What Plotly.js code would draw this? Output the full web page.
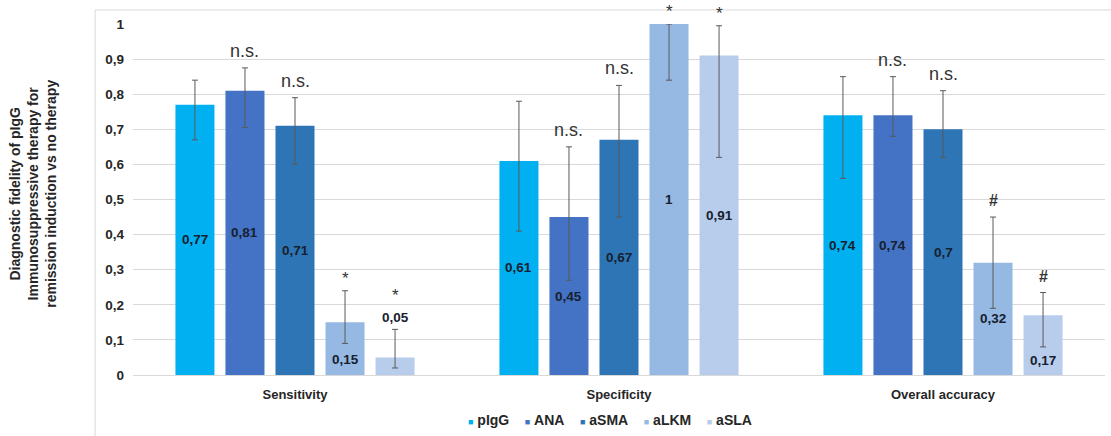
<!DOCTYPE html>
<html>
<head>
<meta charset="utf-8">
<script src="https://cdn.plot.ly/plotly-3.0.1.min.js"></script>
<style>html,body{margin:0;padding:0;background:#fff;}#chart{width:1111px;height:436px;}</style>
</head>
<body>
<div id="chart"></div>
<script>
// ---- data ----
const categories = ['Sensitivity', 'Specificity', 'Overall accuracy'];
const seriesNames = ['pIgG', 'ANA', 'aSMA', 'aLKM', 'aSLA'];

const pIgG = [0.77, 0.61, 0.74];
const ANA  = [0.81, 0.45, 0.74];
const aSMA = [0.71, 0.67, 0.70];
const aLKM = [0.15, 1.00, 0.32];
const aSLA = [0.05, 0.91, 0.17];

// confidence interval bounds (upper / lower)
const pIgG_hi = [0.84, 0.78, 0.85];
const pIgG_lo = [0.67, 0.41, 0.56];
const ANA_hi  = [0.875, 0.65, 0.85];
const ANA_lo  = [0.705, 0.27, 0.68];
const aSMA_hi = [0.79, 0.825, 0.81];
const aSMA_lo = [0.60, 0.45, 0.62];
const aLKM_hi = [0.24, 1.00, 0.45];
const aLKM_lo = [0.09, 0.84, 0.19];
const aSLA_hi = [0.13, 0.995, 0.235];
const aSLA_lo = [0.02, 0.62, 0.08];

// significance marks vs pIgG
const pIgG_sig = ['', '', ''];
const ANA_sig  = ['n.s.', 'n.s.', 'n.s.'];
const aSMA_sig = ['n.s.', 'n.s.', 'n.s.'];
const aLKM_sig = ['*', '*', '#'];
const aSLA_sig = ['*', '*', '#'];

const yTickVals = [0, 0.1, 0.2, 0.3, 0.4, 0.5, 0.6, 0.7, 0.8, 0.9, 1];
const yTitleLines = ['Diagnostic fidelity of pIgG', 'Immunosuppressive therapy for', 'remission induction vs no therapy'];

// ---- styles ----
const colors = ['#00B0F0', '#4472C4', '#2E75B6', '#95B9E2', '#B8CDEC'];
const FONT = 'Liberation Sans, Arial, sans-serif';
const TXT = '#262626';

const values = [pIgG, ANA, aSMA, aLKM, aSLA];
const his = [pIgG_hi, ANA_hi, aSMA_hi, aLKM_hi, aSLA_hi];
const los = [pIgG_lo, ANA_lo, aSMA_lo, aLKM_lo, aSLA_lo];
const sigs = [pIgG_sig, ANA_sig, aSMA_sig, aLKM_sig, aSLA_sig];

const bargap = 0.228;
const nS = seriesNames.length;
const slot = (1 - bargap) / nS;

const traces = seriesNames.map((name, i) => ({
  type: 'bar',
  name: name,
  x: categories,
  y: values[i],
  marker: {color: colors[i]},
  error_y: {
    type: 'data', symmetric: false,
    array: values[i].map((v, k) => +(his[i][k] - v).toFixed(4)),
    arrayminus: values[i].map((v, k) => +(v - los[i][k]).toFixed(4)),
    color: '#595959', thickness: 1, width: 3
  },
  hoverinfo: 'skip'
}));

const annotations = [];
const fmt = v => String(v).replace('.', ',');
const labelFont = {family: FONT, size: 13.5, color: '#17202f', weight: 'bold'};
seriesNames.forEach((name, i) => {
  values[i].forEach((v, k) => {
    const xc = k + (i - (nS - 1) / 2) * slot;
    let outside = false;
    let ly;
    if (v < 0.1) {
      outside = true;
    } else if (v / 2 + 0.02 > los[i][k]) {
      ly = los[i][k] / 2;
    } else {
      ly = v / 2;
    }
    if (outside) {
      annotations.push({x: xc, y: his[i][k], xref: 'x', yref: 'y', yanchor: 'bottom', yshift: 2,
        text: fmt(v), showarrow: false, font: labelFont});
    } else {
      annotations.push({x: xc, y: ly, xref: 'x', yref: 'y', yanchor: 'middle',
        text: fmt(v), showarrow: false, font: labelFont});
    }
    const s = sigs[i][k];
    if (s) {
      const big = s === 'n.s.';
      annotations.push({x: xc, y: his[i][k], xref: 'x', yref: 'y', yanchor: 'bottom',
        yshift: (outside ? 22 : 1) + (big ? 4 : (s === '#' ? 5 : 0)),
        text: s, showarrow: false,
        font: {family: FONT, size: big ? 18 : (s === '*' ? 17 : 16), color: '#333333',
               weight: s === '#' ? 'bold' : 'normal'}});
    }
  });
});

// y-axis title as rotated annotation
annotations.push({
  xref: 'paper', yref: 'paper', x: -0.103, y: 0.516, xanchor: 'center', yanchor: 'middle',
  textangle: -90, showarrow: false, text: yTitleLines.join('<br>'),
  font: {family: FONT, size: 14, color: TXT, weight: 'bold'}
});

// compact legend, built from series names and colours
const NB = '\u00a0';
annotations.push({
  xref: 'paper', yref: 'paper', x: 0.491, y: -0.128, xanchor: 'center', yanchor: 'middle',
  showarrow: false,
  text: seriesNames.map((n, i) =>
    `<span style="color:${colors[i]};font-size:9px">\u25A0</span>${NB}${n}`).join(NB.repeat(4)),
  font: {family: FONT, size: 14, color: TXT, weight: 'bold'}
});

const layout = {
  width: 1111, height: 436,
  margin: {l: 133, r: 6, t: 24, b: 61},
  paper_bgcolor: '#ffffff', plot_bgcolor: '#ffffff',
  separators: ', ',
  barmode: 'group', bargap: bargap, bargroupgap: 0.22,
  showlegend: false,
  xaxis: {type: 'category', showgrid: false, showline: false, ticks: '', zeroline: false,
    ticklabelstandoff: 10,
    tickfont: {family: FONT, size: 13, color: TXT, weight: 'bold'}, fixedrange: true},
  yaxis: {range: [0, 1], tickvals: yTickVals, showgrid: true, gridcolor: '#d9d9d9', gridwidth: 1,
    zeroline: true, zerolinecolor: '#d9d9d9', zerolinewidth: 1, showline: false, ticks: '',
    ticklabelstandoff: 8,
    tickfont: {family: FONT, size: 13.5, color: TXT, weight: 'bold'}, fixedrange: true},
  annotations: annotations,
  shapes: [
    {type: 'line', xref: 'paper', yref: 'paper', x0: -0.039, x1: -0.039, y0: -0.18, y1: 1.04,
      line: {color: '#d9d9d9', width: 1}},
    {type: 'line', xref: 'paper', yref: 'paper', x0: -0.039, x1: 1.01, y0: 1.04, y1: 1.04,
      line: {color: '#d9d9d9', width: 1}}
  ]
};

Plotly.newPlot('chart', traces, layout, {displayModeBar: false, staticPlot: true});
</script>
</body>
</html>
